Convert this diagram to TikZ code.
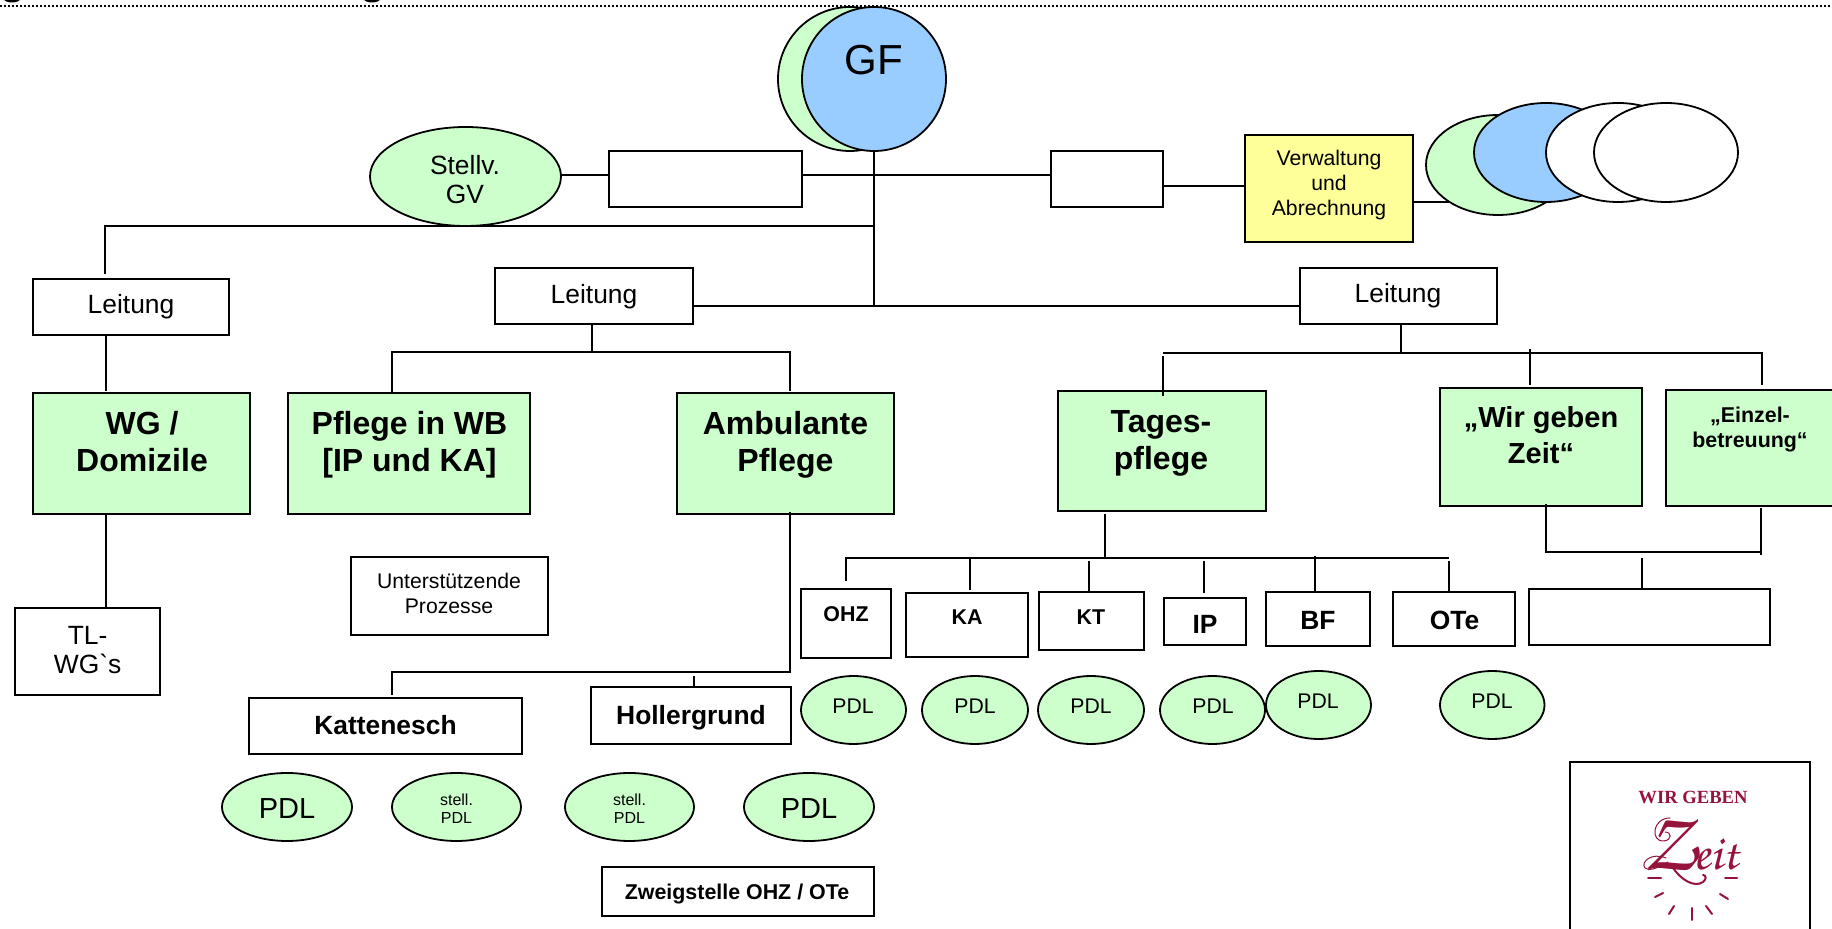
\documentclass[tikz,border=0pt]{standalone}
\usepackage{fontspec}
\setmainfont{Liberation Sans}
\newfontfamily\plainf{Liberation Sans}
\newfontfamily\logof{Liberation Serif}
\usetikzlibrary{shapes.geometric}
\definecolor{gruen}{HTML}{CCFFCC}
\definecolor{blau}{HTML}{99CCFF}
\definecolor{gelb}{HTML}{FFFF99}
\definecolor{weinrot}{HTML}{96143C}
\newcommand{\shp}[9]{%
  \pgfmathsetmacro\mycx{(#3+#5)/2}%
  \pgfmathsetmacro\mycy{(#4+#6)/2}%
  \pgfmathsetmacro\myw{(#5-#3)*0.5}%
  \pgfmathsetmacro\myh{(#6-#4)*0.5}%
  \pgfmathsetmacro\myr{(\mycy-#8-0.5)*0.5}%
  \pgfmathsetmacro\myd{(#7-\mycx)}%
  \node[#1,minimum width=\myw pt,minimum height=\myh pt] (#2) at (\mycx,\mycy)
    {\raisebox{\myr pt}[0pt][0pt]{\makebox[0pt]{\hspace{\myd pt}\begin{tabular}[b]{@{}c@{}}#9\end{tabular}}}};%
}
\tikzset{
  x=0.5pt,y=-0.5pt,
  base/.style={draw=black,inner sep=0pt,outer sep=0pt,line width=1.1pt,text=black},
  bx/.style={base,rectangle},
  gbx/.style={bx,fill=gruen},
  ybx/.style={bx,fill=gelb},
  oval/.style={base,ellipse,fill=gruen,line width=0.9pt},
  boval/.style={oval,fill=blau},
  woval/.style={oval,fill=white},
  conn/.style={draw=black,line width=1pt},
  thin conn/.style={draw=black,line width=0.8pt},
  ray/.style={draw=weinrot,line width=1pt,line cap=round},
  swash/.style={draw=weinrot,line width=0.5pt,line cap=round},
  fa/.style={font=\fontsize{8}{9}\selectfont},
  fb/.style={font=\fontsize{10.6}{12.5}\selectfont},
  fbb/.style={font=\fontsize{10.7}{12.5}\bfseries\selectfont},
  fc/.style={font=\fontsize{13.2}{14.5}\selectfont},
  fcb/.style={font=\fontsize{13.2}{14.5}\bfseries\selectfont},
  fd/.style={font=\fontsize{14.5}{18}\selectfont},
  fdb/.style={font=\fontsize{14.5}{18}\bfseries\selectfont},
  fe/.style={font=\fontsize{16}{18.5}\bfseries\selectfont},
  ff/.style={font=\fontsize{21}{24}\selectfont},
}
\begin{document}
\begin{tikzpicture}
\useasboundingbox (0,0) rectangle (1832,929);
\clip (0,0) rectangle (1832,929);
\fill[white] (0,0) rectangle (1832,929);
% remains of the cut-off heading
\fill[black] (12,-1) ellipse [x radius=8,y radius=3.5];
\fill[black] (372,-1) ellipse [x radius=8,y radius=3.5];
% top rule
\coordinate (ruleL) at (0,5.7);
\coordinate (ruleR) at (1832,5.7);
\draw[line width=1pt,dash pattern=on 1pt off 1pt] (ruleL) -- (ruleR);
% GF
\shp{oval}{gfg}{778}{7}{922}{151}{850}{74}{}
\shp{boval,ff}{gfb}{802}{7}{946}{151}{874}{74}{GF}
% staff row
\shp{oval,fc}{stell}{370}{127}{561}{226}{465}{203}{Stellv.\\GV}
\shp{bx}{sb1}{609}{151}{802}{207}{705}{180}{}
\shp{bx}{sb2}{1051}{151}{1163}{207}{1107}{180}{}
\shp{ybx,fb}{verw}{1245}{135}{1413}{242}{1329}{215}{Verwaltung\\und\\Abrechnung}
\shp{oval}{vo1}{1426}{115}{1570}{215}{1498}{165}{}
\shp{boval}{vo2}{1474}{103}{1618}{202}{1546}{152}{}
\shp{woval}{vo3}{1546}{103}{1690}{202}{1618}{152}{}
\shp{woval}{vo4}{1594}{103}{1738}{202}{1666}{152}{}
% leads
\shp{bx,fc}{lt1}{33}{279}{229}{335}{131}{313}{Leitung}
\shp{bx,fc}{lt2}{495}{268}{693}{324}{594}{303}{Leitung}
\shp{bx,fc}{lt3}{1300}{268}{1497}{324}{1398}{302}{Leitung}
% green departments
\shp{gbx,fe}{wg}{33}{393}{250}{514}{142}{471}{WG /\\Domizile}
\shp{gbx,fe}{wb}{288}{393}{530}{514}{409.5}{471}{Pflege in WB\\{}[IP und KA]}
\shp{gbx,fe}{amb}{677}{393}{894}{514}{785.5}{471}{Ambulante\\Pflege}
\shp{gbx,fe}{tag}{1058}{391}{1266}{511}{1161}{469}{Tages-\\pflege}
\shp{gbx,fdb}{wir}{1440}{388}{1642}{506}{1541}{463}{„Wir geben\\Zeit“}
\shp{gbx,fbb}{ein}{1666}{390}{1850}{506}{1750}{447}{„Einzel-\\betreuung“}
% lower left
\shp{bx,fc}{tl}{15}{608}{160}{695}{87.6}{673}{TL-\\WG{\plainf`}s}
\shp{bx,fb}{unt}{351}{557}{548}{635}{449}{613}{Unterstützende\\Prozesse}
\shp{bx,fcb}{kat}{249}{698}{522}{754}{385.5}{734}{Kattenesch}
\shp{bx,fcb}{hol}{591}{687}{791}{744}{691}{724}{Hollergrund}
\shp{oval,fd}{pa}{222}{773}{352}{841}{287}{818}{PDL}
\shp{oval,fa}{pb}{392}{773}{521}{841}{456.5}{823}{stell.\\PDL}
\shp{oval,fa}{pc}{565}{773}{694}{841}{629.5}{823}{stell.\\PDL}
\shp{oval,fd}{pd}{744}{773}{874}{841}{809}{818}{PDL}
\shp{bx,fbb}{zwg}{602}{867}{874}{916}{737}{899}{Zweigstelle OHZ / OTe}
% sites
\shp{bx,fbb}{ohz}{801}{589}{891}{658}{846}{621}{OHZ}
\shp{bx,fbb}{ka}{906}{593}{1028}{657}{967}{624}{KA}
\shp{bx,fbb}{kt}{1039}{592}{1144}{650}{1091}{624}{KT}
\shp{bx,fcb}{ip}{1164}{598}{1246}{645}{1205}{633}{IP}
\shp{bx,fcb}{bf}{1266}{592}{1370}{646}{1318}{629}{BF}
\shp{bx,fcb}{ote}{1393}{592}{1515}{646}{1454.5}{629}{OTe}
\shp{bx}{emp}{1529}{589}{1770}{645}{1650}{620}{}
\shp{oval,fb}{p1}{801}{676}{906}{744}{853}{713}{PDL}
\shp{oval,fb}{p2}{922}{676}{1028}{744}{975}{713}{PDL}
\shp{oval,fb}{p3}{1038}{676}{1144}{744}{1091}{713}{PDL}
\shp{oval,fb}{p4}{1160}{676}{1265}{744}{1213}{713}{PDL}
\shp{oval,fb}{p5}{1266}{671}{1371}{739}{1318}{708}{PDL}
\shp{oval,fb}{p6}{1440}{671}{1544.5}{739}{1492}{708}{PDL}
% logo
\node[bx,minimum width=120pt,minimum height=100pt,anchor=north west] (logo) at (1570,762) {};
\node[text=weinrot,inner sep=0pt,font=\logof\bfseries\fontsize{9.3}{10}\selectfont] (logoa) at (1693,797) {WIR GEBEN};
\node[text=weinrot,inner sep=0pt,anchor=base] (logob) at (1691,870) {\usefont{T1}{pzc}{mb}{it}\fontsize{42}{42}\selectfont Z\kern-1pt\fontsize{25}{25}\selectfont eit};
% swashes of the script capital
\draw[swash] (1670,818) .. controls (1652,818) and (1650,842) .. (1664,841) .. controls (1672,840) and (1672,832) .. (1665,832);
\draw[swash] (1666,858) .. controls (1652,852) and (1640,862) .. (1645,868) .. controls (1652,872) and (1660,866) .. (1668,862);
\draw[draw=weinrot,line width=1pt,line cap=round] (1672,866) .. controls (1680,880) and (1695,888) .. (1703,882) .. controls (1707,879) and (1706,875) .. (1703,875);
\draw[ray] (1648,878) -- (1661,878);
\draw[ray] (1725,878) -- (1737,878);
\draw[ray] (1655,897) -- (1663,893);
\draw[ray] (1720,894) -- (1728,899);
\draw[ray] (1669,914) -- (1674,906);
\draw[ray] (1692,920) -- (1692,908);
\draw[ray] (1712,914) -- (1706,906);
% junctions
\coordinate (yStaff) at (0,175);
\coordinate (yVerw) at (0,186);
\coordinate (busA) at (105,226);
\coordinate (yMain) at (0,306);
% connectors top
\draw[conn] (stell.east |- yStaff) -- (sb1.west |- yStaff);
\draw[conn] (sb1.east |- yStaff) -- (sb2.west |- yStaff);
\draw[conn] (sb2.east |- yVerw) -- (verw.west |- yVerw);
\draw[conn] (verw.east |- vo1.217) -- (vo1.217);
\draw[conn] (gfb.south) -- (gfb.south |- yMain);
\draw[conn] (lt2.east |- yMain) -- (lt3.west |- yMain);
\draw[thin conn] (busA -| gfb.south) -- (busA) -- (105,274) coordinate (lt1in);
% Leitung 1
\coordinate (a1) at (105.7,0);
\draw[thin conn] (a1 |- lt1.south) -- (105.7,391) coordinate (wgin);
\draw[thin conn] (a1 |- wg.south) -- (a1 |- tl.north);
% Leitung 2
\coordinate (b2) at (592,352);
\draw[thin conn] (b2 |- lt2.south) -- (b2);
\draw[conn] (392,393) coordinate (wbin) -- (392,352) coordinate (b2l) -- (790,352) coordinate (b2r) -- (790,391) coordinate (ambin);
% Ambulante
\draw[thin conn] (790,512) coordinate (ambout) -- (790,672) coordinate (c1) -- (392,672) coordinate (c2) -- (392,695) coordinate (katin);
\draw[thin conn] (694,676) coordinate (c3) -- (694,687) coordinate (holin);
% Leitung 3
\coordinate (d0) at (1401,353);
\draw[thin conn] (d0 |- lt3.south) -- (d0);
\draw[conn] (1163,353) coordinate (dl) -- (1762,353) coordinate (dr) -- (1762,385) coordinate (einin);
\draw[conn] (1163,356) coordinate (tagtop) -- (1163,396) coordinate (tagin);
\draw[conn] (1530,349) coordinate (wirtop) -- (1530,385) coordinate (wirin);
% Tagespflege bus
\draw[thin conn] (1105,514) coordinate (tout) -- (1105,557) coordinate (tbus);
\draw[conn] (846,581) coordinate (ohzin) -- (846,558) coordinate (e1) -- (1449,558) coordinate (e2);
\draw[thin conn] (970,558) coordinate (kb) -- (970,590) coordinate (kain);
\draw[conn] (1089,561) coordinate (ktb) -- (kt.north -| ktb);
\draw[thin conn] (1204,561) coordinate (ipb) -- (1204,593) coordinate (ipin);
\draw[thin conn] (1315,556) coordinate (bfb) -- (bf.north -| bfb);
\draw[conn] (1449,561) coordinate (oteb) -- (ote.north -| oteb);
% bracket
\draw[thin conn] (1546,504) coordinate (f1) -- (1546,552) coordinate (f2) -- (1761,552) coordinate (f3);
\draw[conn] (1761,508) coordinate (f4) -- (1761,555) coordinate (f5);
\draw[thin conn] (1642,558) coordinate (f6) -- (emp.north -| f6);
\end{tikzpicture}
\end{document}
